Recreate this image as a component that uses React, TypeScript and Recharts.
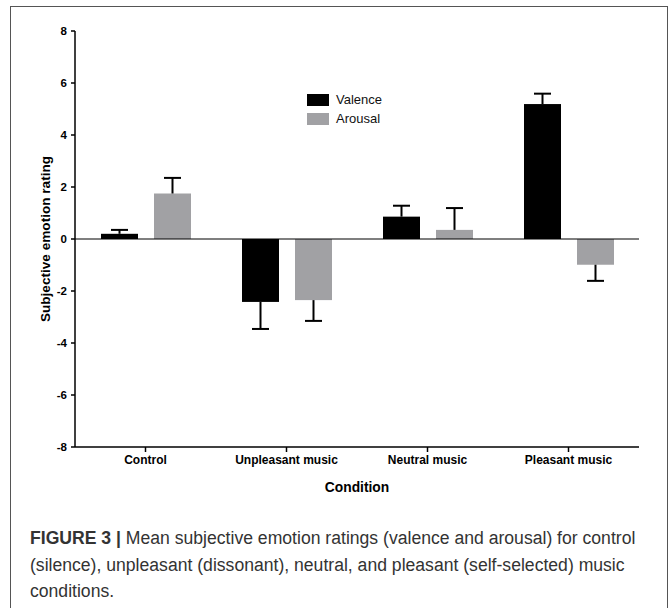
import React from "react";
import { BarChart, Bar, XAxis, YAxis, ReferenceLine } from "recharts";

const conditions = ["Control", "Unpleasant music", "Neutral music", "Pleasant music"];
const valence = [0.2, -2.42, 0.86, 5.19];
const valenceErr = [0.15, 1.04, 0.42, 0.4];
const arousal = [1.75, -2.35, 0.35, -0.99];
const arousalErr = [0.6, 0.8, 0.84, 0.62];
const yTicks = [-8, -6, -4, -2, 0, 2, 4, 6, 8];

const seriesInfo = [
  { key: "valence", label: "Valence", color: "#000" },
  { key: "arousal", label: "Arousal", color: "#a1a1a4" },
];

const captionLines = [
  "Mean subjective emotion ratings (valence and arousal) for control",
  "(silence), unpleasant (dissonant), neutral, and pleasant (self-selected) music",
  "conditions.",
];

const data = conditions.map((name, i) => ({
  name,
  valence: valence[i],
  valenceErr: valenceErr[i],
  arousal: arousal[i],
  arousalErr: arousalErr[i],
}));

const FONT = "'Liberation Sans', Arial, sans-serif";

// bar with a one-sided error whisker pointing away from zero
function makeShape(valueKey: string, errKey: string) {
  return (props: any) => {
    const { x, y, width, height, fill, payload } = props;
    const value = payload[valueKey];
    const err = payload[errKey];
    const top = Math.min(y, y + height);
    const bottom = Math.max(y, y + height);
    const h = bottom - top;
    const ppu = value !== 0 ? h / Math.abs(value) : 0;
    const cx = x + width / 2;
    const start = value >= 0 ? top : bottom;
    const end = value >= 0 ? top - err * ppu : bottom + err * ppu;
    return (
      <g>
        <rect x={x} y={top} width={width} height={h} fill={fill} />
        <line x1={cx} y1={start} x2={cx} y2={end} stroke="#000" strokeWidth={2} />
        <line x1={cx - 8.5} y1={end} x2={cx + 8.5} y2={end} stroke="#000" strokeWidth={2} />
      </g>
    );
  };
}

export default function App() {
  return (
    <div style={{ position: "absolute", left: 0, top: 0, width: 672, height: 608, overflow: "hidden", background: "#fff" }}>
      <div
        style={{
          position: "absolute",
          left: 10,
          top: 6,
          width: 658,
          height: 640,
          border: "1.5px solid #555",
          boxSizing: "border-box",
        }}
      />
      <div style={{ position: "absolute", left: 0, top: 0 }}>
        <BarChart
          width={672}
          height={500}
          data={data}
          margin={{ top: 31, right: 33, bottom: 0, left: 0 }}
          barSize={37}
          barGap={16}
        >
          <XAxis
            dataKey="name"
            height={53}
            axisLine={{ stroke: "#000", strokeWidth: 1.5 }}
            tickLine={{ stroke: "#000", strokeWidth: 1.5 }}
            tickSize={5}
            tickMargin={3}
            tick={{ fill: "#000", fontSize: 12, fontWeight: "bold", fontFamily: FONT }}
            interval={0}
            label={{
              value: "Condition",
              position: "insideBottom",
              offset: 8,
              fill: "#000",
              fontSize: 13.8,
              fontWeight: "bold",
              fontFamily: FONT,
            }}
          />
          <YAxis
            width={75}
            domain={[-8, 8]}
            ticks={yTicks}
            type="number"
            allowDataOverflow
            axisLine={{ stroke: "#000", strokeWidth: 1.5 }}
            tickLine={{ stroke: "#000", strokeWidth: 1.5 }}
            tickSize={4}
            tickMargin={4}
            tick={{ fill: "#000", fontSize: 11.5, fontWeight: "bold", fontFamily: FONT }}
            label={{
              value: "Subjective emotion rating",
              angle: -90,
              position: "center",
              dx: 8,
              fill: "#000",
              fontSize: 13.6,
              fontWeight: "bold",
              fontFamily: FONT,
            }}
          />
          <ReferenceLine y={0} stroke="#000" strokeWidth={1.2} />
          <Bar
            dataKey="valence"
            name="Valence"
            fill="#000"
            isAnimationActive={false}
            shape={makeShape("valence", "valenceErr")}
          />
          <Bar
            dataKey="arousal"
            name="Arousal"
            fill="#a1a1a4"
            isAnimationActive={false}
            shape={makeShape("arousal", "arousalErr")}
          />
        </BarChart>
      </div>
      <div style={{ position: "absolute", left: 307, top: 90, fontFamily: FONT, fontSize: 13 }}>
        {seriesInfo.map((it) => (
          <div key={it.key} style={{ display: "flex", alignItems: "center", height: 19 }}>
            <span style={{ display: "inline-block", width: 22, height: 12, background: it.color, marginRight: 7 }} />
            <span style={{ color: "#111" }}>{it.label}</span>
          </div>
        ))}
      </div>
      <div
        style={{
          position: "absolute",
          left: 30,
          top: 525,
          width: 640,
          fontFamily: FONT,
          fontSize: 17.6,
          lineHeight: "26.5px",
          color: "#333",
          whiteSpace: "nowrap",
        }}
      >
        {captionLines.map((line, i) => (
          <div key={i}>
            {i === 0 && <span style={{ fontWeight: "bold" }}>FIGURE 3 | </span>}
            <span>{line}</span>
          </div>
        ))}
      </div>
    </div>
  );
}
